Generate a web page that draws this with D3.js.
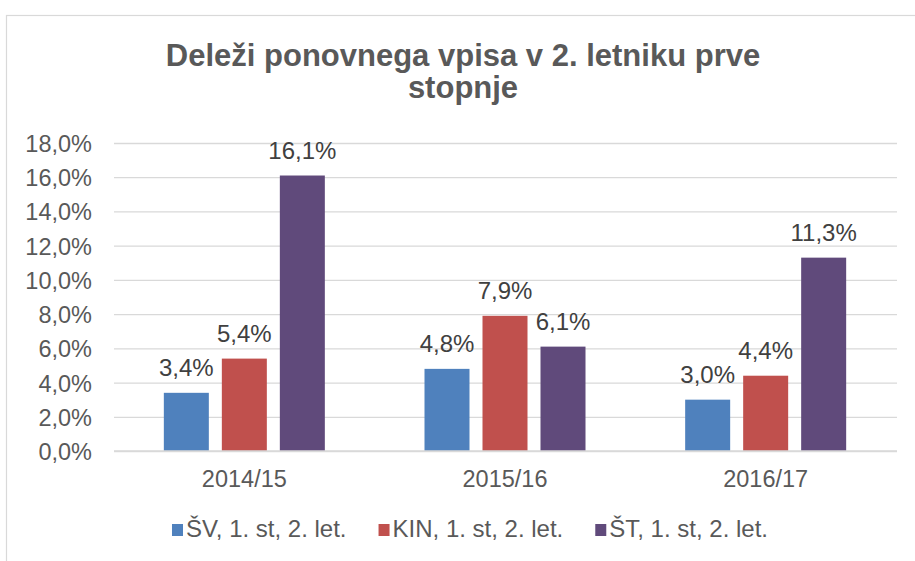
<!DOCTYPE html>
<html>
<head>
<meta charset="utf-8">
<script src="https://cdn.jsdelivr.net/npm/d3@7"></script>
<style>
  html, body { margin: 0; padding: 0; background: #fff; }
  svg { display: block; font-family: "Liberation Sans", Arial, sans-serif; }
</style>
</head>
<body>
<svg id="chart" width="915" height="561"></svg>
<script>
const categories = ["2014/15", "2015/16", "2016/17"];
const seriesNames = ["ŠV, 1. st, 2. let.", "KIN, 1. st, 2. let.", "ŠT, 1. st, 2. let."];
const seriesSV = [0.034, 0.048, 0.030];
const seriesKIN = [0.054, 0.079, 0.044];
const seriesST = [0.161, 0.061, 0.113];
const yTicks = [0, 0.02, 0.04, 0.06, 0.08, 0.10, 0.12, 0.14, 0.16, 0.18];
const colors = ["#4F81BD", "#C0504D", "#604A7B"];
const titleLines = ["Deleži ponovnega vpisa v 2. letniku prve", "stopnje"];

const seriesValues = [seriesSV, seriesKIN, seriesST];

const loc = d3.formatLocale({decimal: ",", thousands: ".", grouping: [3], currency: ["", "€"]});
const fmt = loc.format(".1%");

const svg = d3.select("#chart");

// chart border (extends beyond viewport right/bottom)
svg.append("rect")
  .attr("x", 6.5).attr("y", 15.5)
  .attr("width", 1000).attr("height", 1000)
  .attr("fill", "#fff").attr("stroke", "#d9d9d9").attr("stroke-width", 1.2);

// title
const title = svg.append("text")
  .attr("text-anchor", "middle")
  .attr("fill", "#595959")
  .attr("font-weight", "bold")
  .attr("font-size", 31);
titleLines.forEach((t, i) => {
  title.append("tspan").attr("x", 463).attr("y", 66 + i * 31.5).text(t);
});

const plot = {left: 114, right: 896, top: 143, bottom: 451};

const x0 = d3.scaleBand().domain(categories).range([plot.left, plot.right]).padding(0);
const groupW = 161;
const x1 = d3.scaleBand().domain(d3.range(seriesNames.length))
  .range([(x0.bandwidth() - groupW) / 2, (x0.bandwidth() + groupW) / 2])
  .paddingInner(13 / 58).paddingOuter(0);
const y = d3.scaleLinear().domain([0, 0.18]).range([plot.bottom, plot.top]);

// gridlines
const yAxis = d3.axisLeft(y).tickValues(yTicks).tickFormat(fmt)
  .tickSize(-(plot.right - plot.left + 1)).tickPadding(22);
const gy = svg.append("g").attr("transform", `translate(${plot.left},0)`).call(yAxis);
gy.select(".domain").remove();
gy.selectAll(".tick line").attr("stroke", "#d9d9d9").attr("stroke-width", 1.3);
gy.selectAll(".tick text")
  .attr("fill", "#595959").attr("font-size", 23.5)
  .attr("font-family", "\"Liberation Sans\", Arial, sans-serif")
  .attr("x", 92 - plot.left).attr("dy", "0.36em");

// bars
const groups = svg.append("g").selectAll("g").data(categories).join("g")
  .attr("transform", d => `translate(${x0(d)},0)`);

groups.each(function(cat, ci) {
  const g = d3.select(this);
  seriesValues.forEach((vals, si) => {
    const v = vals[ci];
    g.append("rect")
      .attr("x", x1(si)).attr("width", x1.bandwidth())
      .attr("y", y(v)).attr("height", y(0) - y(v))
      .attr("fill", colors[si]);
    g.append("text")
      .attr("x", x1(si) + x1.bandwidth() / 2)
      .attr("y", y(v) - 17)
      .attr("text-anchor", "middle")
      .attr("fill", "#404040").attr("font-size", 24)
      .text(fmt(v));
  });
});

// baseline
svg.append("line")
  .attr("x1", plot.left).attr("x2", plot.right + 1)
  .attr("y1", y(0)).attr("y2", y(0))
  .attr("stroke", "#d9d9d9").attr("stroke-width", 1.3);

// x labels
const xAxis = d3.axisBottom(x0).tickSize(0).tickPadding(0);
const gx = svg.append("g").attr("transform", `translate(0,${plot.bottom})`).call(xAxis);
gx.select(".domain").remove();
gx.selectAll(".tick text")
  .attr("fill", "#595959").attr("font-size", 23.5)
  .attr("font-family", "\"Liberation Sans\", Arial, sans-serif")
  .attr("y", 36).attr("dy", 0);

// legend
const legend = svg.append("g");
const items = legend.selectAll("g").data(seriesNames).join("g");
items.append("rect").attr("width", 11).attr("height", 12).attr("y", -13)
  .attr("fill", (d, i) => colors[i]);
items.append("text").attr("x", 14).attr("y", 0)
  .attr("fill", "#595959").attr("font-size", 24).text(d => d);
let cx = 0;
const gap = 32;
items.each(function() {
  const w = 14 + d3.select(this).select("text").node().getComputedTextLength();
  d3.select(this).attr("transform", `translate(${cx},0)`);
  cx += w + gap;
});
const totalW = cx - gap;
legend.attr("transform", `translate(${470 - totalW / 2},537)`);
</script>
</body>
</html>
